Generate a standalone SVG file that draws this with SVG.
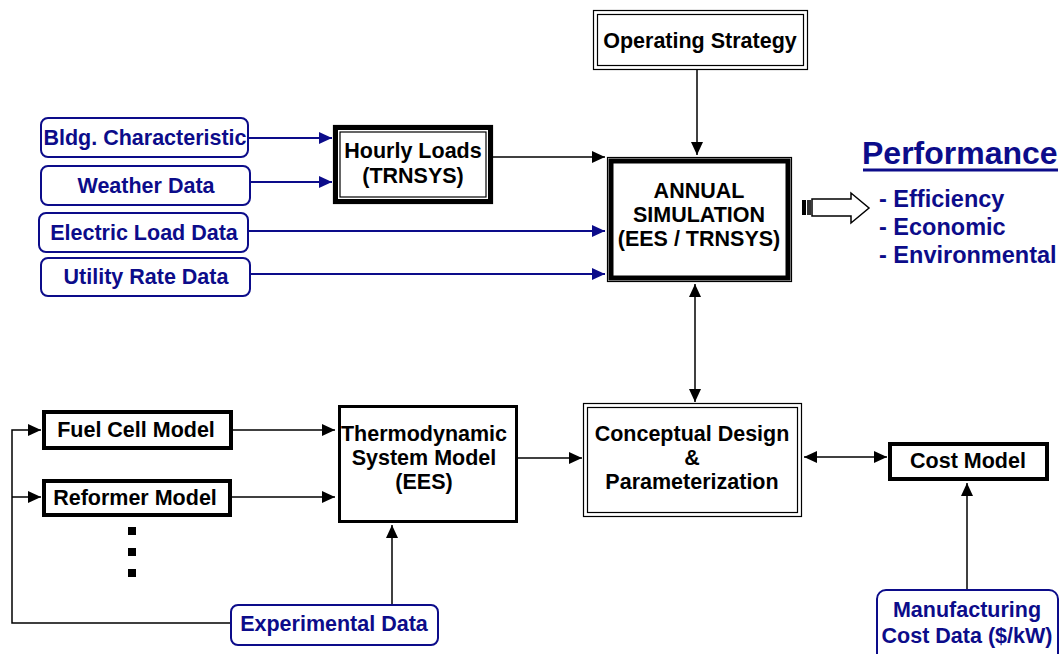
<svg xmlns="http://www.w3.org/2000/svg" width="1063" height="654" viewBox="0 0 1063 654">
<style>
.t{font-family:"Liberation Sans",Arial,sans-serif;font-weight:bold;font-size:21.5px;fill:#000;text-anchor:middle}
.b{fill:#0c0c8a}
.l{font-size:23.5px;text-anchor:start}
.data{fill:#fff;stroke:#0c0c8a;stroke-width:2}
.thick{fill:#fff;stroke:#000;stroke-width:4}
.thin{fill:none;stroke:#000;stroke-width:1.2}
.dbl{fill:#fff;stroke:#000;stroke-width:1.2}
.k{fill:none;stroke:#000;stroke-width:1.5}
.bl{fill:none;stroke:#0c0c8a;stroke-width:2}
</style>
<defs>
<marker id="ak" markerUnits="userSpaceOnUse" markerWidth="13" markerHeight="12" refX="13" refY="6" orient="auto-start-reverse"><path d="M0,0 L13,6 L0,12 Z" fill="#000"/></marker>
<marker id="ab" markerUnits="userSpaceOnUse" markerWidth="13" markerHeight="12" refX="13" refY="6" orient="auto"><path d="M0,0 L13,6 L0,12 Z" fill="#0c0c8a"/></marker>
</defs>
<rect width="1063" height="654" fill="#fff"/>

<g id="connectors">
<path class="bl" d="M248,138 H332" marker-end="url(#ab)"/>
<path class="bl" d="M250,182 H332" marker-end="url(#ab)"/>
<path class="bl" d="M248,231 H605" marker-end="url(#ab)"/>
<path class="bl" d="M250,274 H605" marker-end="url(#ab)"/>
<path class="k" d="M493,157 H605" marker-end="url(#ak)"/>
<path class="k" d="M697,70 V155" marker-end="url(#ak)"/>
<path class="k" d="M695,284 V402" marker-start="url(#ak)" marker-end="url(#ak)"/>
<path class="k" d="M233,430 H335" marker-end="url(#ak)"/>
<path class="k" d="M232,497 H335" marker-end="url(#ak)"/>
<path class="k" d="M518,458 H582" marker-end="url(#ak)"/>
<path class="k" d="M804,457 H887" marker-start="url(#ak)" marker-end="url(#ak)"/>
<path class="k" d="M967,590 V483" marker-end="url(#ak)"/>
<path class="k" d="M392,605 V525" marker-end="url(#ak)"/>
<path class="k" d="M232,623 H12 V430 H41" marker-end="url(#ak)"/>
<path class="k" d="M12,497 H41" marker-end="url(#ak)"/>
</g>

<g id="bldg">
<rect class="data" x="41" y="118" width="207" height="39" rx="7"/>
<text class="t b" x="145" y="145">Bldg. Characteristic</text>
</g>
<g id="weather">
<rect class="data" x="41" y="166" width="209" height="39" rx="7"/>
<text class="t b" x="146" y="193">Weather Data</text>
</g>
<g id="electric">
<rect class="data" x="39" y="213" width="209" height="39" rx="7"/>
<text class="t b" x="144" y="240">Electric Load Data</text>
</g>
<g id="utility">
<rect class="data" x="41" y="258" width="209" height="38" rx="7"/>
<text class="t b" x="146" y="284">Utility Rate Data</text>
</g>

<g id="hourly">
<rect class="thin" x="333.5" y="125.5" width="159" height="78"/>
<rect class="thick" x="336" y="128" width="154" height="73"/>
<rect class="thin" x="340" y="132" width="146" height="65"/>
<text class="t" x="413" y="158">Hourly Loads</text>
<text class="t" x="413" y="183">(TRNSYS)</text>
</g>

<g id="strategy">
<rect class="dbl" x="593.5" y="10.5" width="214" height="59"/>
<rect class="thin" x="597.5" y="14.5" width="206" height="51"/>
<text class="t" x="700" y="48">Operating Strategy</text>
</g>

<g id="annual">
<rect class="thin" x="607.5" y="157.5" width="184" height="124"/>
<rect class="thick" x="611" y="161" width="177" height="117" style="stroke-width:5"/>
<text class="t" x="699" y="198">ANNUAL</text>
<text class="t" x="699" y="222">SIMULATION</text>
<text class="t" x="699" y="246">(EES / TRNSYS)</text>
</g>

<g id="performance">
<rect x="802" y="200" width="4" height="15" fill="#000"/>
<rect x="807" y="200" width="4" height="15" fill="#333"/>
<path d="M812,199 H851 V193 L869,208 L851,223 V216 H812 Z" fill="#fff" stroke="#000" stroke-width="1.5"/>
<text class="t b" x="862" y="164" style="font-size:32px;text-anchor:start">Performance</text>
<line x1="863" y1="170" x2="1058" y2="170" stroke="#0c0c8a" stroke-width="3"/>
<text class="t b l" x="879" y="207">- Efficiency</text>
<text class="t b l" x="879" y="235">- Economic</text>
<text class="t b l" x="879" y="263">- Environmental</text>
</g>

<g id="fuelcell">
<rect class="thick" x="44" y="412" width="187" height="36"/>
<text class="t" x="136" y="437">Fuel Cell Model</text>
</g>
<g id="reformer">
<rect class="thick" x="44" y="481" width="186" height="34"/>
<text class="t" x="135" y="505">Reformer Model</text>
</g>
<g id="dots">
<rect x="128" y="527" width="8" height="8" fill="#000"/>
<rect x="128" y="548" width="8" height="8" fill="#000"/>
<rect x="128" y="569" width="8" height="8" fill="#000"/>
</g>

<g id="thermo">
<rect class="thick" x="339.5" y="406.5" width="177" height="115" style="stroke-width:3"/>
<text class="t" x="424" y="441">Thermodynamic</text>
<text class="t" x="424" y="465">System Model</text>
<text class="t" x="424" y="489">(EES)</text>
</g>

<g id="conceptual">
<rect class="dbl" x="583.5" y="403.5" width="218" height="113"/>
<rect class="thin" x="587.5" y="407.5" width="210" height="105"/>
<text class="t" x="692" y="441">Conceptual Design</text>
<text class="t" x="692" y="465">&amp;</text>
<text class="t" x="692" y="489">Parameterization</text>
</g>

<g id="cost">
<rect class="thick" x="890" y="444" width="157" height="35"/>
<text class="t" x="968" y="468">Cost Model</text>
</g>

<g id="experimental">
<rect class="data" x="231" y="605" width="207" height="40" rx="7"/>
<text class="t b" x="334" y="631">Experimental Data</text>
</g>

<g id="manufacturing">
<rect class="data" x="877" y="590" width="181" height="75" rx="9"/>
<text class="t b" x="967" y="617">Manufacturing</text>
<text class="t b" x="967" y="643">Cost Data ($/kW)</text>
</g>
</svg>
